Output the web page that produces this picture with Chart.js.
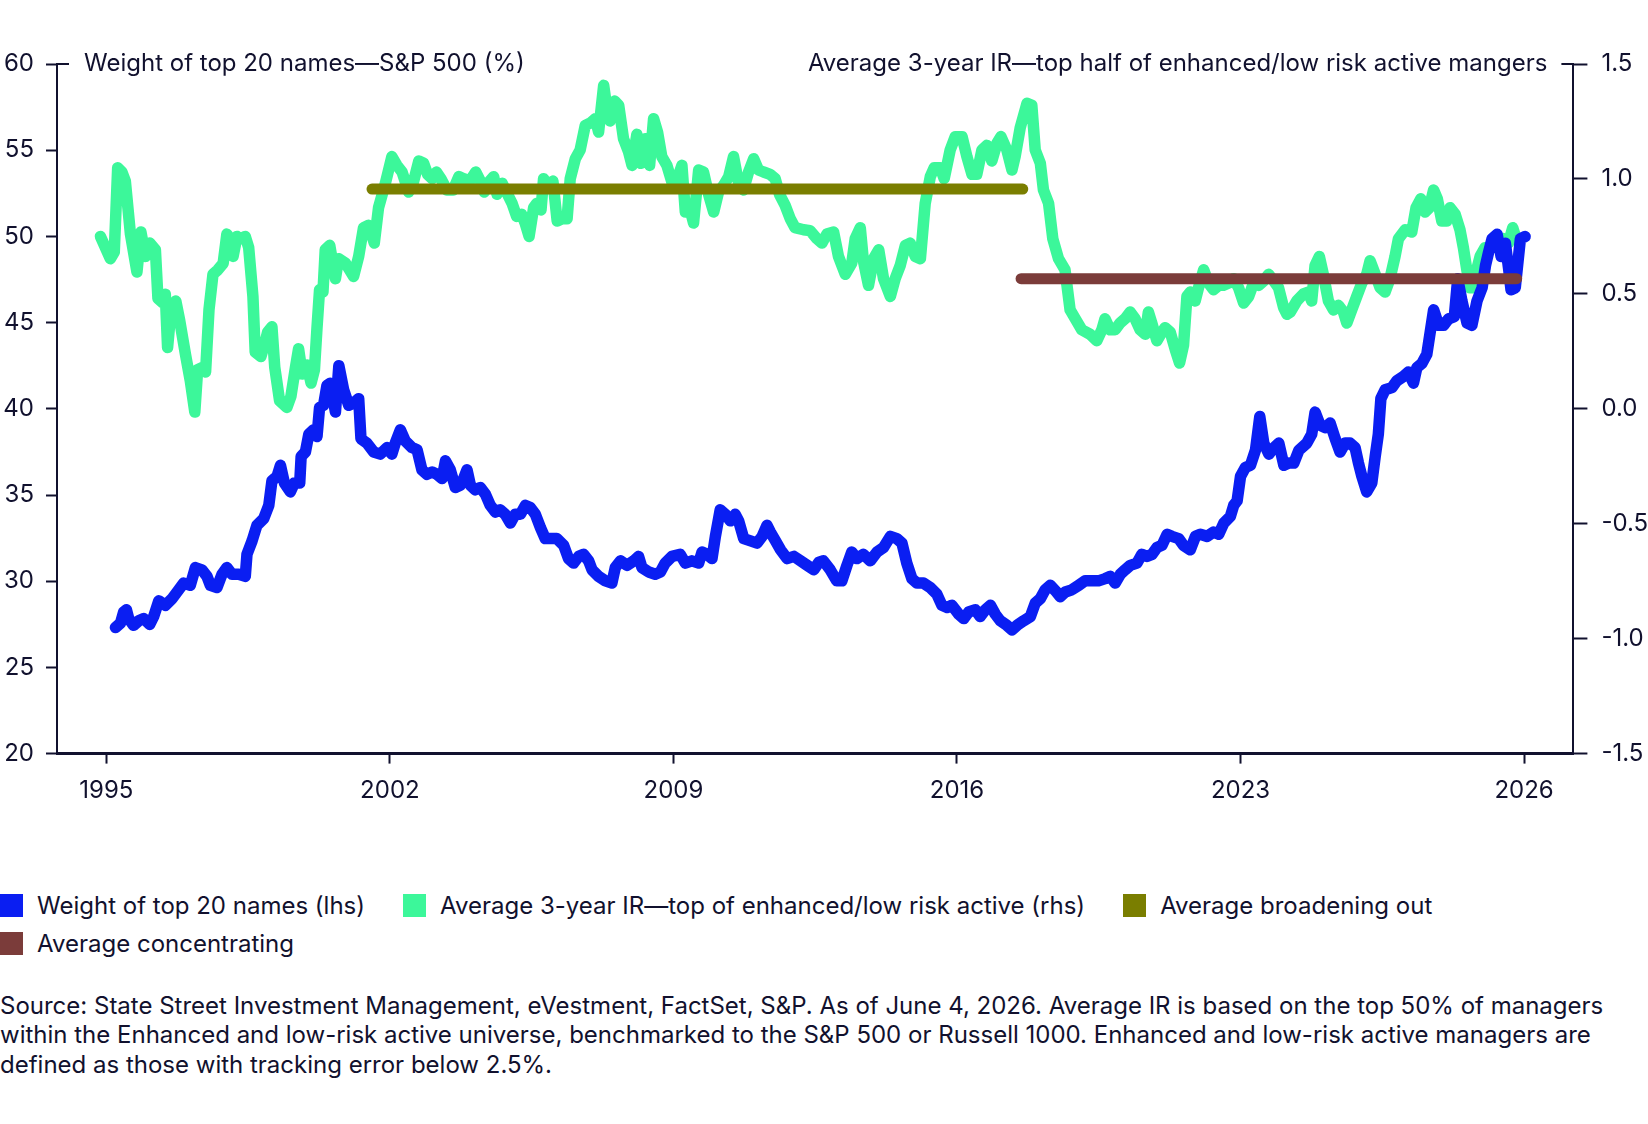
<!DOCTYPE html>
<html>
<head>
<meta charset="utf-8">
<script src="https://cdn.jsdelivr.net/npm/chart.js@4.4.1/dist/chart.umd.min.js"></script>
<style>
  html, body { margin: 0; padding: 0; background: #ffffff; }
  body { width: 1648px; height: 1124px; position: relative; overflow: hidden; font-family: Inter, "Noto Sans", sans-serif; color: #11112e; }
  #wrap { position: absolute; left: 0; top: 0; width: 1648px; height: 830px; }
  #legend { position: absolute; left: 0; top: 886px; width: 1648px; display: flex; flex-wrap: wrap; }
  .item { display: flex; align-items: center; height: 38px; margin-right: 38px; font-size: 24px; white-space: nowrap; }
  .sw { width: 23px; height: 23px; margin-right: 14px; flex: none; }
  #source { position: absolute; left: 0; top: 991px; font-size: 24px; line-height: 29.4px; white-space: nowrap; }
</style>
</head>
<body>
<div id="wrap"><canvas id="c"></canvas></div>
<div id="legend"></div>
<div id="source">Source: State Street Investment Management, eVestment, FactSet, S&amp;P. As of June 4, 2026. Average IR is based on the top 50% of managers<br>within the Enhanced and low-risk active universe, benchmarked to the S&amp;P 500 or Russell 1000. Enhanced and low-risk active managers are<br>defined as those with tracking error below 2.5%.</div>
<script>
// ---- Data (x positions in tick-interval units: 0 = "1995" tick, 5 = "2026" tick) ----
const X_LABELS = ["1995", "2002", "2009", "2016", "2023", "2026"];

// Average 3-year IR (right axis)
const irPos = [-0.021,0.014,0.028,0.040,0.055,0.067,0.085,0.108,0.122,0.138,0.153,0.173,0.182,0.200,0.208,0.216,0.228,0.245,0.259,0.279,0.296,0.312,0.322,0.339,0.350,0.362,0.376,0.393,0.412,0.425,0.437,0.447,0.461,0.473,0.490,0.502,0.517,0.525,0.545,0.557,0.569,0.584,0.594,0.611,0.637,0.651,0.667,0.678,0.691,0.708,0.722,0.734,0.743,0.752,0.764,0.772,0.788,0.808,0.819,0.843,0.872,0.890,0.907,0.925,0.945,0.960,0.984,1.007,1.025,1.043,1.066,1.084,1.102,1.119,1.133,1.149,1.164,1.180,1.201,1.223,1.243,1.260,1.282,1.303,1.319,1.333,1.352,1.366,1.378,1.396,1.411,1.431,1.447,1.465,1.477,1.491,1.507,1.518,1.533,1.542,1.560,1.575,1.590,1.607,1.625,1.636,1.654,1.671,1.689,1.707,1.725,1.736,1.754,1.766,1.777,1.793,1.807,1.824,1.842,1.854,1.871,1.885,1.901,1.916,1.930,1.944,1.959,1.977,1.998,2.014,2.030,2.042,2.057,2.071,2.089,2.106,2.124,2.142,2.159,2.177,2.195,2.212,2.230,2.247,2.265,2.283,2.300,2.318,2.341,2.359,2.374,2.394,2.412,2.429,2.459,2.482,2.506,2.524,2.541,2.565,2.582,2.606,2.629,2.641,2.659,2.670,2.688,2.706,2.724,2.741,2.765,2.782,2.800,2.818,2.835,2.853,2.871,2.888,2.906,2.920,2.941,2.955,2.976,2.994,3.018,3.035,3.053,3.070,3.088,3.106,3.123,3.141,3.155,3.176,3.194,3.205,3.223,3.247,3.264,3.276,3.294,3.305,3.323,3.338,3.358,3.381,3.399,3.417,3.440,3.470,3.493,3.511,3.522,3.540,3.558,3.575,3.593,3.611,3.628,3.646,3.664,3.675,3.687,3.705,3.723,3.734,3.752,3.770,3.785,3.799,3.811,3.823,3.840,3.852,3.870,3.887,3.905,3.923,3.940,3.958,3.976,3.993,4.011,4.029,4.046,4.064,4.082,4.099,4.117,4.134,4.152,4.164,4.175,4.199,4.222,4.239,4.251,4.263,4.278,4.292,4.310,4.328,4.345,4.363,4.375,4.392,4.410,4.428,4.445,4.457,4.475,4.492,4.510,4.527,4.545,4.557,4.581,4.604,4.619,4.636,4.651,4.666,4.681,4.694,4.710,4.727,4.739,4.757,4.774,4.786,4.798,4.809,4.821,4.833,4.845,4.862,4.880,4.904,4.927,4.945,4.960,4.972];
const irVal = [0.750,0.653,0.682,1.049,1.030,0.991,0.760,0.595,0.769,0.663,0.721,0.692,0.480,0.460,0.498,0.267,0.430,0.469,0.382,0.237,0.122,-0.014,0.170,0.180,0.160,0.430,0.585,0.604,0.633,0.760,0.740,0.663,0.750,0.740,0.750,0.702,0.489,0.247,0.227,0.276,0.334,0.357,0.180,0.035,0.006,0.054,0.180,0.261,0.151,0.190,0.112,0.170,0.353,0.518,0.508,0.692,0.711,0.566,0.653,0.634,0.576,0.663,0.788,0.798,0.721,0.875,0.981,1.097,1.059,1.030,0.943,0.991,1.078,1.068,1.020,1.001,1.030,1.001,0.952,0.952,1.010,1.001,0.991,1.030,0.991,0.943,0.991,1.010,0.933,0.981,0.943,0.894,0.837,0.846,0.808,0.750,0.875,0.894,0.865,1.001,0.962,0.991,0.817,0.827,0.827,1.001,1.088,1.126,1.233,1.243,1.262,1.204,1.407,1.300,1.252,1.339,1.320,1.175,1.117,1.059,1.194,1.068,1.175,1.059,1.262,1.204,1.097,1.059,0.972,1.001,1.059,0.856,0.875,0.808,1.039,1.030,0.933,0.856,0.943,0.972,1.010,1.097,0.981,0.952,1.030,1.088,1.039,1.030,1.020,1.001,0.933,0.885,0.827,0.788,0.779,0.775,0.740,0.721,0.760,0.769,0.663,0.585,0.634,0.740,0.788,0.644,0.537,0.653,0.692,0.566,0.489,0.566,0.624,0.711,0.721,0.663,0.653,0.894,1.010,1.049,1.049,1.001,1.126,1.184,1.184,1.097,1.020,1.020,1.126,1.146,1.078,1.155,1.184,1.126,1.039,1.097,1.223,1.329,1.320,1.126,1.068,0.952,0.894,0.740,0.653,0.605,0.430,0.392,0.344,0.324,0.296,0.344,0.392,0.344,0.344,0.373,0.392,0.421,0.392,0.344,0.324,0.421,0.373,0.296,0.334,0.353,0.334,0.257,0.199,0.276,0.489,0.508,0.469,0.527,0.605,0.547,0.518,0.537,0.537,0.547,0.566,0.527,0.460,0.489,0.547,0.537,0.556,0.585,0.556,0.527,0.440,0.411,0.420,0.470,0.500,0.508,0.469,0.624,0.663,0.585,0.469,0.430,0.450,0.421,0.373,0.430,0.489,0.547,0.585,0.644,0.585,0.527,0.508,0.566,0.663,0.740,0.779,0.769,0.875,0.914,0.856,0.875,0.952,0.914,0.817,0.817,0.875,0.846,0.779,0.701,0.605,0.527,0.527,0.605,0.663,0.701,0.701,0.721,0.740,0.721,0.788,0.740];

// Weight of top 20 names, % (left axis)
const wPos = [0.032,0.050,0.061,0.071,0.079,0.096,0.114,0.132,0.153,0.167,0.185,0.208,0.232,0.255,0.273,0.296,0.314,0.337,0.355,0.367,0.390,0.408,0.425,0.443,0.467,0.490,0.496,0.514,0.531,0.555,0.573,0.584,0.602,0.614,0.628,0.649,0.663,0.682,0.687,0.702,0.714,0.731,0.743,0.752,0.766,0.778,0.790,0.808,0.820,0.837,0.855,0.872,0.890,0.898,0.919,0.943,0.966,0.990,1.007,1.019,1.037,1.054,1.078,1.096,1.113,1.131,1.149,1.166,1.184,1.196,1.213,1.231,1.248,1.260,1.272,1.284,1.301,1.319,1.337,1.354,1.372,1.389,1.407,1.425,1.442,1.460,1.478,1.495,1.513,1.531,1.548,1.566,1.589,1.613,1.630,1.648,1.666,1.683,1.701,1.713,1.736,1.760,1.783,1.795,1.813,1.836,1.860,1.877,1.889,1.913,1.936,1.954,1.971,1.995,2.024,2.042,2.065,2.089,2.101,2.118,2.136,2.148,2.165,2.183,2.201,2.218,2.230,2.248,2.272,2.295,2.313,2.330,2.342,2.360,2.378,2.401,2.425,2.448,2.472,2.495,2.513,2.529,2.553,2.576,2.594,2.612,2.629,2.647,2.670,2.694,2.718,2.741,2.765,2.788,2.806,2.823,2.841,2.859,2.882,2.906,2.929,2.947,2.965,2.982,3.006,3.024,3.041,3.065,3.082,3.100,3.118,3.135,3.153,3.176,3.194,3.212,3.235,3.259,3.276,3.294,3.311,3.329,3.347,3.364,3.382,3.405,3.429,3.452,3.476,3.499,3.523,3.541,3.558,3.576,3.593,3.611,3.635,3.652,3.670,3.688,3.705,3.723,3.741,3.758,3.782,3.799,3.823,3.841,3.858,3.882,3.905,3.923,3.941,3.964,3.976,3.988,4.000,4.017,4.035,4.053,4.068,4.082,4.100,4.118,4.135,4.153,4.170,4.188,4.206,4.234,4.251,4.263,4.281,4.298,4.316,4.334,4.351,4.369,4.386,4.404,4.416,4.428,4.445,4.463,4.475,4.486,4.495,4.510,4.534,4.551,4.575,4.592,4.610,4.622,4.640,4.657,4.669,4.681,4.699,4.716,4.734,4.754,4.766,4.781,4.799,4.816,4.834,4.852,4.864,4.875,4.887,4.905,4.919,4.934,4.946,4.954,4.969,4.987,5.004];
const wVal = [27.31,27.57,28.21,28.34,27.83,27.44,27.70,27.83,27.49,27.95,28.86,28.60,28.99,29.50,29.89,29.76,30.79,30.66,30.28,29.76,29.63,30.40,30.79,30.40,30.40,30.28,31.56,32.34,33.24,33.63,34.40,35.82,36.08,36.72,35.69,35.18,35.69,35.69,37.23,37.49,38.52,38.78,38.39,40.07,40.20,41.36,41.48,39.81,42.50,41.10,40.20,40.33,40.59,38.26,38.01,37.49,37.37,37.75,37.37,38.01,38.78,38.14,37.75,37.62,36.46,36.20,36.33,36.20,35.95,36.98,36.46,35.43,35.56,35.95,36.46,35.56,35.30,35.43,35.04,34.40,34.01,34.14,33.88,33.37,33.88,33.88,34.40,34.27,33.88,33.11,32.47,32.47,32.47,32.08,31.31,31.05,31.44,31.56,31.18,30.66,30.28,30.02,29.89,30.79,31.18,30.92,31.18,31.44,30.79,30.53,30.40,30.53,31.05,31.44,31.56,31.05,31.18,31.05,31.69,31.56,31.31,32.60,34.14,33.88,33.50,33.88,33.50,32.47,32.34,32.21,32.60,33.24,32.85,32.34,31.82,31.31,31.44,31.18,30.92,30.66,31.10,31.18,30.66,30.02,30.02,30.92,31.69,31.31,31.56,31.18,31.69,31.95,32.60,32.47,32.21,31.05,30.15,29.89,29.89,29.63,29.25,28.60,28.47,28.60,28.09,27.83,28.21,28.34,27.95,28.34,28.60,28.09,27.70,27.44,27.18,27.44,27.70,27.95,28.73,28.99,29.50,29.76,29.45,29.10,29.37,29.50,29.76,30.02,30.02,30.02,30.15,30.28,29.89,30.40,30.66,30.92,31.05,31.56,31.44,31.56,31.95,32.08,32.72,32.60,32.47,32.08,31.82,32.60,32.72,32.60,32.85,32.72,33.37,33.75,34.40,34.66,36.08,36.59,36.72,37.62,39.55,38.01,37.37,37.75,38.01,36.72,36.85,36.85,37.60,38.01,38.52,39.81,39.04,38.91,39.17,38.26,37.49,38.01,38.01,37.75,36.85,36.08,35.18,35.69,37.23,38.52,40.59,41.10,41.23,41.62,41.88,42.13,41.49,42.39,42.64,43.16,44.45,45.74,44.84,44.84,45.22,45.35,47.54,46.25,44.97,44.84,46.25,47.02,48.31,49.09,49.86,50.12,48.83,49.60,48.06,46.90,47.02,49.86,49.99];

// Period averages of IR (right axis): [start, end] positions and level
const broadeningSpan = [0.937, 3.232];
const broadeningAvg = 0.956;
const concentratingSpan = [3.226, 4.974];
const concentratingAvg = 0.566;

const LEFT_TICKS = { min: 20, max: 60, step: 5 };
const RIGHT_TICKS = { min: -1.5, max: 1.5, step: 0.5 };

const LEFT_TITLE = "Weight of top 20 names\u2014S&P 500 (%)";
const RIGHT_TITLE = "Average 3-year IR\u2014top half of enhanced/low risk active mangers";

const SERIES_NAMES = ["Weight of top 20 names (lhs)", "Average 3-year IR\u2014top of enhanced/low risk active (rhs)", "Average broadening out", "Average concentrating"];
const COLORS = ["#0a1ef2", "#3cf79a", "#7a7e00", "#7b3c3a"];

// ---- Build ----
const INK = "#11112e";
const FONT = "Inter, 'Noto Sans', sans-serif";
const FS = 24;
const toPts = (xs, ys) => xs.map((x, i) => ({ x: x, y: ys[i] }));

const titlesPlugin = {
  id: "titles",
  afterDraw(chart) {
    const { ctx, chartArea } = chart;
    const yTop = chart.scales.y.getPixelForValue(LEFT_TICKS.max);
    ctx.save();
    ctx.strokeStyle = INK;
    ctx.lineWidth = 2;
    ctx.beginPath();
    ctx.moveTo(chartArea.left, yTop); ctx.lineTo(chartArea.left + 12, yTop);
    ctx.moveTo(chartArea.right - 12, yTop); ctx.lineTo(chartArea.right, yTop);
    ctx.stroke();
    ctx.fillStyle = INK;
    ctx.font = FS + "px " + FONT;
    ctx.textBaseline = "middle";
    ctx.textAlign = "left";
    ctx.fillText(LEFT_TITLE, chartArea.left + 27, yTop);
    ctx.textAlign = "right";
    ctx.fillText(RIGHT_TITLE, chartArea.right - 26, yTop);
    ctx.restore();
  }
};

const lineBase = { pointRadius: 0, pointHoverRadius: 0, tension: 0, borderJoinStyle: "round", borderCapStyle: "round", fill: false };

new Chart(document.getElementById("c"), {
  type: "line",
  data: {
    datasets: [
      Object.assign({}, lineBase, { label: SERIES_NAMES[0], data: toPts(wPos, wVal), borderColor: COLORS[0], borderWidth: 11.5, yAxisID: "y", order: 1 }),
      Object.assign({}, lineBase, { label: SERIES_NAMES[1], data: toPts(irPos, irVal), borderColor: COLORS[1], borderWidth: 11.5, yAxisID: "y1", order: 2 }),
      Object.assign({}, lineBase, { label: SERIES_NAMES[2], data: toPts(broadeningSpan, [broadeningAvg, broadeningAvg]), borderColor: COLORS[2], borderWidth: 11, yAxisID: "y1", order: 0 }),
      Object.assign({}, lineBase, { label: SERIES_NAMES[3], data: toPts(concentratingSpan, [concentratingAvg, concentratingAvg]), borderColor: COLORS[3], borderWidth: 11, yAxisID: "y1", order: 0 })
    ]
  },
  options: {
    responsive: true,
    maintainAspectRatio: false,
    animation: false,
    layout: { padding: { top: 64, left: 0, right: 0, bottom: 0 } },
    plugins: { legend: { display: false }, tooltip: { enabled: false } },
    scales: {
      x: {
        type: "linear",
        min: -0.174, max: 5.174,
        afterBuildTicks: s => { s.ticks = X_LABELS.map((_, i) => ({ value: i })); },
        afterFit: s => { s.height = 76.4; },
        ticks: { callback: v => X_LABELS[Math.round(v)], font: { family: FONT, size: FS }, color: INK, padding: 13, maxRotation: 0, autoSkip: false },
        grid: { drawOnChartArea: false, drawTicks: true, tickLength: 10, tickColor: INK, tickWidth: 2 },
        border: { display: true, color: INK, width: 3 }
      },
      y: {
        position: "left",
        min: LEFT_TICKS.min, max: LEFT_TICKS.max,
        afterFit: s => { s.width = 57; },
        ticks: { stepSize: LEFT_TICKS.step, font: { family: FONT, size: FS }, color: INK, padding: 12 },
        grid: { drawOnChartArea: false, drawTicks: true, tickLength: 11, tickColor: INK, tickWidth: 2 },
        border: { display: true, color: INK, width: 2 }
      },
      y1: {
        position: "right",
        min: RIGHT_TICKS.min, max: RIGHT_TICKS.max,
        afterFit: s => { s.width = 74.6; },
        ticks: { stepSize: RIGHT_TICKS.step, callback: v => v.toFixed(1), font: { family: FONT, size: FS }, color: INK, padding: 14 },
        grid: { drawOnChartArea: false, drawTicks: true, tickLength: 14, tickColor: INK, tickWidth: 2 },
        border: { display: true, color: INK, width: 2 }
      }
    }
  },
  plugins: [titlesPlugin]
});

// HTML legend
const lg = document.getElementById("legend");
SERIES_NAMES.forEach((name, i) => {
  const it = document.createElement("div");
  it.className = "item";
  const sw = document.createElement("span");
  sw.className = "sw";
  sw.style.background = COLORS[i];
  const tx = document.createElement("span");
  tx.textContent = name;
  it.appendChild(sw); it.appendChild(tx);
  lg.appendChild(it);
});
</script>
</body>
</html>
